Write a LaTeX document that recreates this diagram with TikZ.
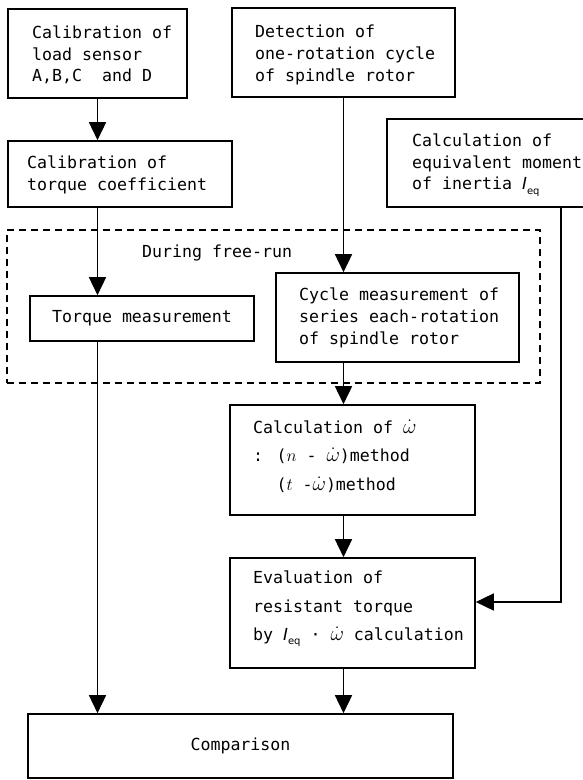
\documentclass[tikz,border=0pt]{standalone}
\usepackage{fontspec}
\newfontfamily\gothic{DejaVu Sans Mono}
\newfontfamily\gsans{DejaVu Sans}
\usetikzlibrary{arrows.meta}
\newcommand{\Ieq}{{\gsans\itshape I}\raisebox{-0.45ex}{\fontsize{10}{10}\selectfont\gsans eq}}
\newcommand{\omd}{{\fontsize{20}{20}\selectfont$\dot{\omega}$}}
\newcommand{\mvar}[1]{{\fontsize{19}{19}\selectfont$#1$}}
\begin{document}
\begin{tikzpicture}[x=1pt,y=-1pt,
  box/.style={draw, line width=1.6pt, inner sep=0pt, font=\gothic\fontsize{16.6}{21.7}\selectfont},
  dbox/.style={draw, line width=1.4pt, dash pattern=on 7pt off 5pt, inner sep=0pt},
  txt/.style={font=\gothic\fontsize{16.6}{21.7}\selectfont, align=left, inner sep=0pt, anchor=west},
  wtxt/.style={txt, font=\gothic\fontsize{16.6}{28.5}\selectfont},
  arr/.style={line width=1.5pt, -{Triangle[length=18pt,width=17pt]}}]
\clip (0,0) rectangle (583,780);
\fill[white] (0,0) rectangle (583,780);
% boxes
\node[box, minimum width=179pt, minimum height=89pt] (b1) at (97.5,53.5) {};
\node[box, minimum width=223pt, minimum height=89pt] (b2) at (343.5,52.5) {};
\node[box, minimum width=224pt, minimum height=66pt] (b3) at (120,174) {};
\node[box, minimum width=213pt, minimum height=88pt] (b4) at (493.5,163) {};
\node[dbox, minimum width=533pt, minimum height=153pt] (free) at (273.5,306.5) {};
\node[box, minimum width=224pt, minimum height=45pt] (torque) at (142,318.5) {Torque measurement};
\node[box, minimum width=243pt, minimum height=89pt] (cycle) at (397.5,317.5) {};
\node[box, minimum width=245pt, minimum height=110pt] (calc) at (352.5,460) {};
\node[box, minimum width=245pt, minimum height=110pt] (eval) at (352.5,613) {};
\node[box, minimum width=425pt, minimum height=64pt] (comp) at (240.5,746) {Comparison};
% texts
\node[txt] (t1) at (32,55) {Calibration of\\load sensor\\A,B,C\ \ and D};
\node[txt] (t2) at (255,55) {Detection of\\one-rotation cycle\\of spindle rotor};
\node[txt] (t3) at (27,175) {Calibration of\\torque coefficient};
\node[txt] (t4) at (412,165) {Calculation of\\equivalent moment\\of inertia \Ieq};
\node[txt] (tfree) at (142,253) {During free-run};
\node[txt] (t5) at (299,318) {Cycle measurement of\\series each-rotation\\of spindle rotor};
\node[wtxt] (t6) at (253,456) {Calculation of \omd\\: (\mvar{n} - \omd)method\\\phantom{: }(\mvar{t} -\omd)method};
\node[wtxt] (t7) at (253,609) {Evaluation of\\resistant torque\\by \Ieq\ · \omd\ calculation};
% connectors
\draw[arr] (b1.south) -- (b3.north -| b1.south);
\draw[arr] (b3.south -| b1.south) -- (torque.north -| b1.south);
\draw[arr] (torque.south -| b1.south) -- (comp.north -| b1.south);
\draw[arr] (b2.south) -- (cycle.north -| b2.south);
\draw[arr] (cycle.south -| b2.south) -- (calc.north -| b2.south);
\draw[arr] (calc.south -| b2.south) -- (eval.north -| b2.south);
\draw[arr] (eval.south -| b2.south) -- (comp.north -| b2.south);
\coordinate (fb) at (561,602);
\draw[arr] (b4.south -| fb) -- (fb) -- (eval.east |- fb);
\end{tikzpicture}
\end{document}
